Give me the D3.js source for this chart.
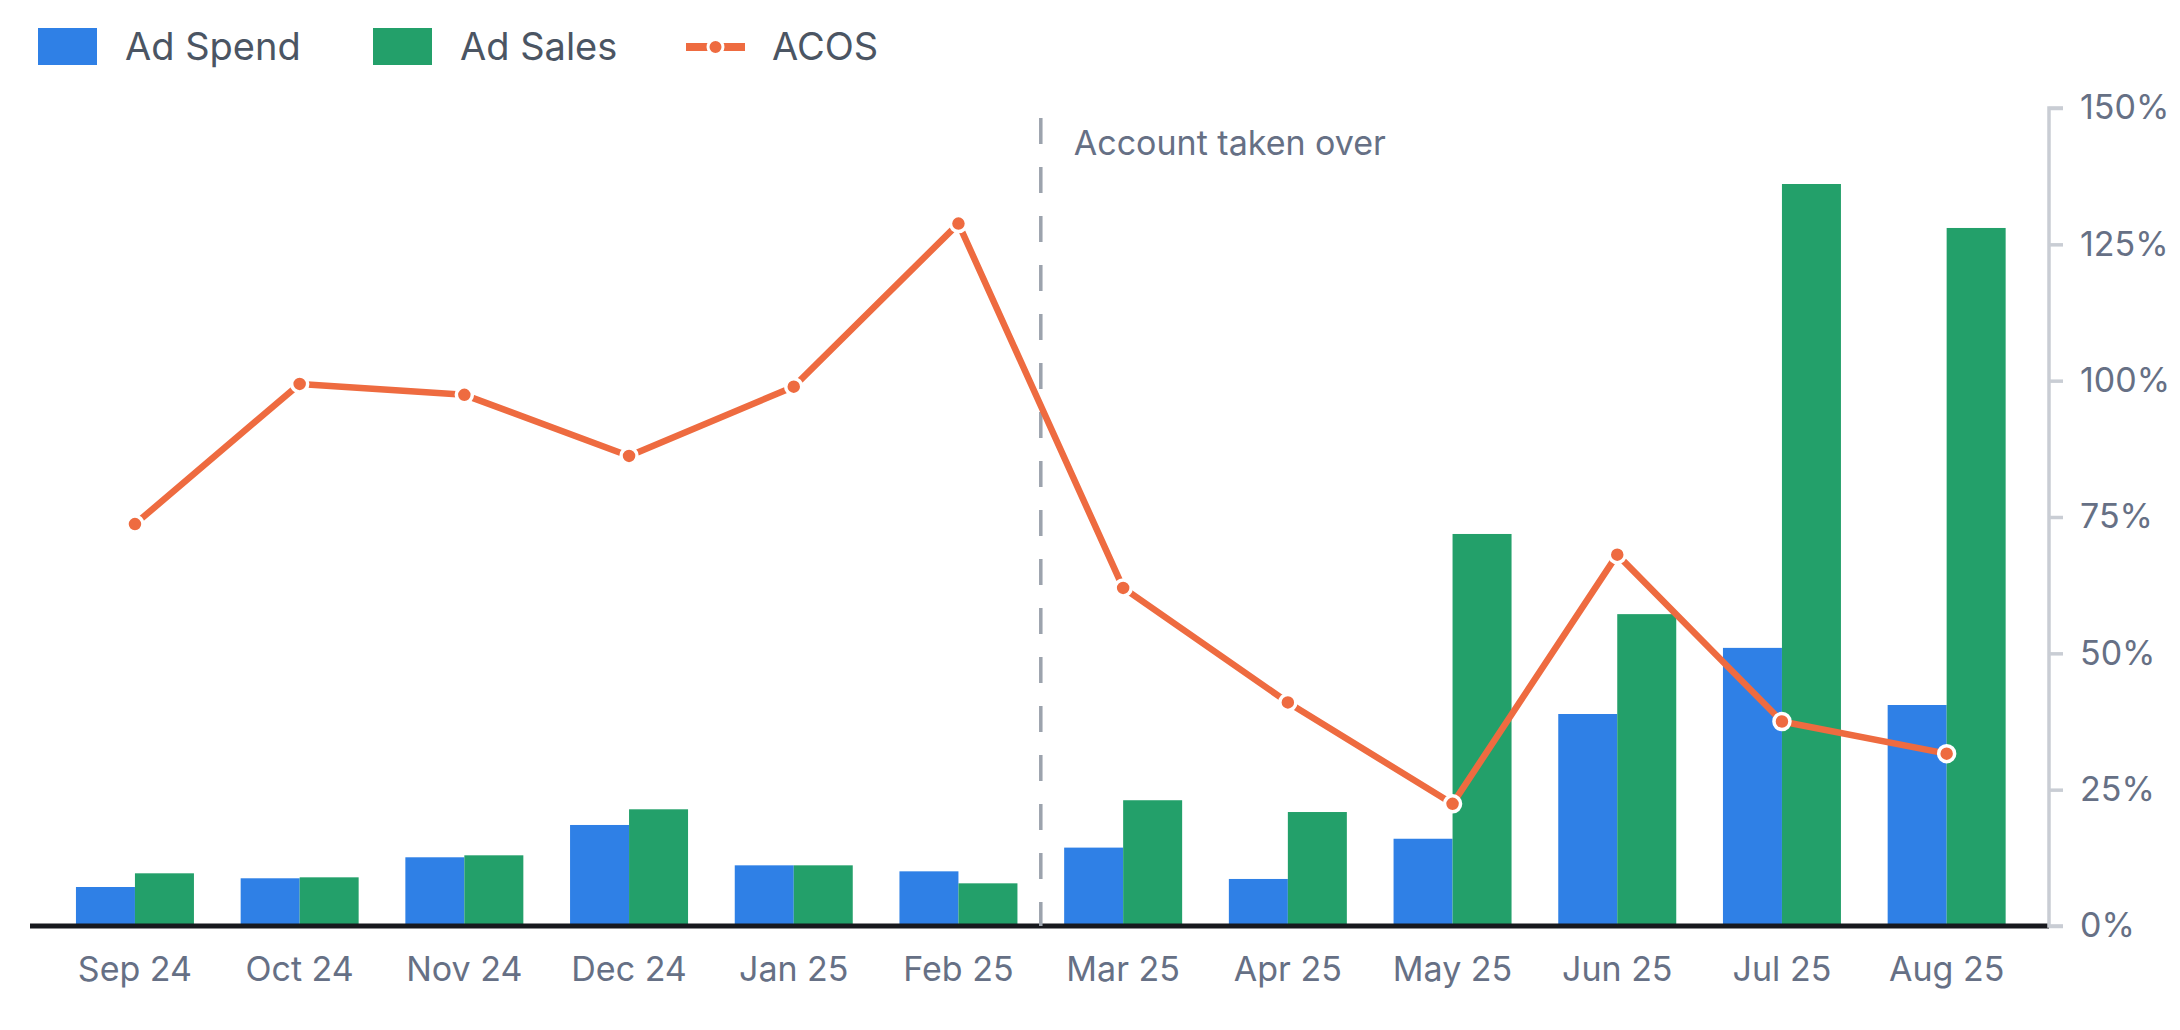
<!DOCTYPE html>
<html>
<head>
<meta charset="utf-8">
<script src="https://cdn.jsdelivr.net/npm/d3@7"></script>
<style>
  body { margin: 0; background: #fff; }
  text { font-family: Inter, "Noto Sans", sans-serif; }
</style>
</head>
<body>
<div id="chart"></div>
<script>
// data
var months = ['Sep 24', 'Oct 24', 'Nov 24', 'Dec 24', 'Jan 25', 'Feb 25',
              'Mar 25', 'Apr 25', 'May 25', 'Jun 25', 'Jul 25', 'Aug 25'];
var adSpend = [572, 700, 1008, 1482, 890, 802, 1150, 690, 1280, 3110, 4080, 3242];
var adSales = [773, 714, 1037, 1712, 890, 626, 1845, 1672, 5751, 4575, 10885, 10240];
var acos = [73.7, 99.4, 97.4, 86.2, 98.9, 128.8, 62.0, 41.0, 22.4, 68.1, 37.5, 31.6];
var acosTicks = [0, 25, 50, 75, 100, 125, 150];
var markerMonth = 'Mar 25';
var markerText = 'Account taken over';

var svgWidth = 2180;
var svgHeight = 1030;

var colors = { spend: '#2f80e6', sales: '#23a06a', acos: '#ee6b40' };

var svg = d3.select('#chart')
    .append('svg')
    .attr('width', svgWidth)
    .attr('height', svgHeight);

var plotTop = 108, plotBottom = 926, axisX = 2049;

// scales
var xScale = d3.scaleBand()
    .domain(months)
    .range([52.6, 2029])
    .paddingInner(0.2836)
    .paddingOuter(0.1418);

var xSub = d3.scaleBand()
    .domain(['spend', 'sales'])
    .range([0, xScale.bandwidth()]);

var yMoney = d3.scaleLinear()
    .domain([0, 12000])
    .range([plotBottom, plotTop]);

var yPct = d3.scaleLinear()
    .domain([0, 150])
    .range([plotBottom, plotTop]);

// bars
var groups = svg.append('g').selectAll('g')
    .data(months)
    .enter()
    .append('g')
    .attr('transform', d => `translate(${xScale(d)}, 0)`);

groups.append('rect')
    .attr('x', xSub('spend'))
    .attr('width', xSub.bandwidth())
    .attr('y', (d, i) => yMoney(adSpend[i]))
    .attr('height', (d, i) => plotBottom - yMoney(adSpend[i]))
    .attr('fill', colors.spend);

groups.append('rect')
    .attr('x', xSub('sales'))
    .attr('width', xSub.bandwidth())
    .attr('y', (d, i) => yMoney(adSales[i]))
    .attr('height', (d, i) => plotBottom - yMoney(adSales[i]))
    .attr('fill', colors.sales);

// baseline
svg.append('line')
    .attr('x1', 30)
    .attr('x2', axisX)
    .attr('y1', plotBottom)
    .attr('y2', plotBottom)
    .attr('stroke', '#17191e')
    .attr('stroke-width', 5);

// x labels
var bottomAxis = d3.axisBottom(xScale).tickSize(0).tickPadding(31);
var xAxisG = svg.append('g')
    .attr('transform', `translate(0, ${plotBottom})`)
    .call(bottomAxis);
xAxisG.select('.domain').remove();
xAxisG.selectAll('text')
    .attr('font-family', 'Inter, sans-serif')
    .attr('font-size', 34)
    .attr('fill', '#667085');

// right axis
var rightAxis = d3.axisRight(yPct)
    .tickValues(acosTicks)
    .tickFormat(d => d + '%')
    .tickSize(14)
    .tickPadding(17);
var yAxisG = svg.append('g')
    .attr('transform', `translate(${axisX}, 0)`)
    .call(rightAxis);
yAxisG.select('.domain')
    .attr('stroke', '#c9cdd4')
    .attr('stroke-width', 3.5)
    .attr('d', `M14,${plotTop}H0V${plotBottom}H14`);
yAxisG.selectAll('.tick line')
    .attr('stroke', '#c9cdd4')
    .attr('stroke-width', 3.5);
yAxisG.selectAll('text')
    .attr('font-family', 'Inter, sans-serif')
    .attr('font-size', 34)
    .attr('fill', '#667085');

// takeover marker
var markerX = xScale(markerMonth) - xScale.step() * xScale.paddingInner() / 2;
svg.append('line')
    .attr('x1', markerX)
    .attr('x2', markerX)
    .attr('y1', 118)
    .attr('y2', plotBottom)
    .attr('stroke', '#9ca3ad')
    .attr('stroke-width', 3.5)
    .attr('stroke-dasharray', '26 23');

svg.append('text')
    .attr('x', markerX + 33)
    .attr('y', 155)
    .attr('font-size', 34)
    .attr('fill', '#667085')
    .text(markerText);

// ACOS line
var line = d3.line()
    .x((d, i) => xScale(months[i]) + xScale.bandwidth() / 2)
    .y(d => yPct(d));

svg.append('path')
    .datum(acos)
    .attr('d', line)
    .attr('fill', 'none')
    .attr('stroke', colors.acos)
    .attr('stroke-width', 6.5)
    .attr('stroke-linejoin', 'round');

svg.append('g').selectAll('circle')
    .data(acos)
    .enter()
    .append('circle')
    .attr('cx', (d, i) => xScale(months[i]) + xScale.bandwidth() / 2)
    .attr('cy', d => yPct(d))
    .attr('r', 8)
    .attr('fill', colors.acos)
    .attr('stroke', '#fff')
    .attr('stroke-width', 3.5);

// legend
var legend = svg.append('g');
legend.append('rect')
    .attr('x', 38).attr('y', 28).attr('width', 59).attr('height', 37)
    .attr('fill', colors.spend);
legend.append('text')
    .attr('x', 125).attr('y', 60)
    .attr('font-size', 38).attr('fill', '#4b5563')
    .text('Ad Spend');
legend.append('rect')
    .attr('x', 373).attr('y', 28).attr('width', 59).attr('height', 37)
    .attr('fill', colors.sales);
legend.append('text')
    .attr('x', 460).attr('y', 60)
    .attr('font-size', 38).attr('fill', '#4b5563')
    .text('Ad Sales');
legend.append('line')
    .attr('x1', 686).attr('x2', 745).attr('y1', 47).attr('y2', 47)
    .attr('stroke', colors.acos).attr('stroke-width', 8);
legend.append('circle')
    .attr('cx', 715.5).attr('cy', 47).attr('r', 7.5)
    .attr('fill', colors.acos)
    .attr('stroke', '#fff').attr('stroke-width', 3);
legend.append('text')
    .attr('x', 772).attr('y', 60)
    .attr('font-size', 38).attr('fill', '#4b5563')
    .text('ACOS');
</script>
</body>
</html>
